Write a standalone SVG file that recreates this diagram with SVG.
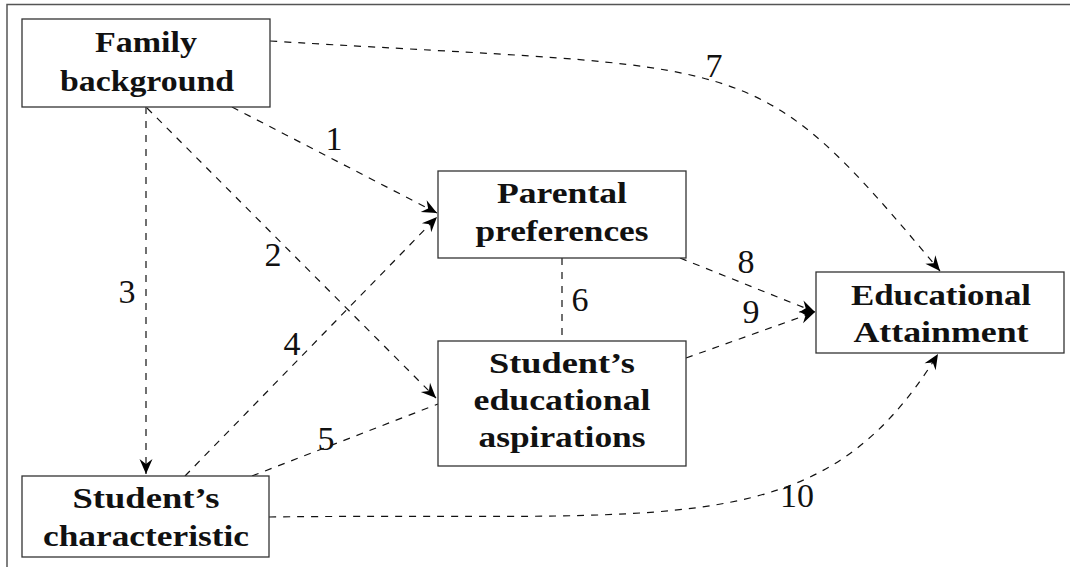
<svg xmlns="http://www.w3.org/2000/svg" width="1070" height="567" viewBox="0 0 1070 567">
<defs>
<style>
.box{fill:#fff;stroke:#333;stroke-width:1.3}
.t{font-family:"Liberation Serif","DejaVu Serif",serif;font-weight:bold;font-size:30px;fill:#111;text-anchor:middle}
.n{font-family:"Liberation Serif","DejaVu Serif",serif;font-size:34px;fill:#111;text-anchor:middle}
.e{fill:none;stroke:#111;stroke-width:1.2;stroke-dasharray:7 7}
.frame{fill:none;stroke:#555;stroke-width:1.5}
</style>
<marker id="arr" markerUnits="userSpaceOnUse" markerWidth="20" markerHeight="16" viewBox="-16 -8 18 16" refX="0" refY="0" orient="auto">
<path d="M0,0 L-15,-6.5 L-10,0 L-15,6.5 Z" fill="#000" stroke="none"/>
</marker>
</defs>
<path class="frame" d="M7,567 L7,4.5 L1070,4.5"/>
<g id="connectors">
<path class="e" d="M232,107 L437,213" marker-end="url(#arr)"/>
<path class="e" d="M147,108 L436,398" marker-end="url(#arr)"/>
<path class="e" d="M146,107 L146,474" marker-end="url(#arr)"/>
<path class="e" d="M185,476 L437,217" marker-end="url(#arr)"/>
<path class="e" d="M252,476 L438,404"/>
<path class="e" d="M562,258 L562,341"/>
<path class="e" d="M270,41 C760,71 750,44 940,271" marker-end="url(#arr)"/>
<path class="e" d="M680,258 L815,312" marker-end="url(#arr)"/>
<path class="e" d="M686,358 L815,312" marker-end="url(#arr)"/>
<path class="e" d="M269,517 C680,512 820,545 938,354" marker-end="url(#arr)"/>
<text class="n" x="334" y="150">1</text>
<text class="n" x="273" y="266">2</text>
<text class="n" x="127" y="303">3</text>
<text class="n" x="292" y="355">4</text>
<text class="n" x="326" y="450">5</text>
<text class="n" x="580" y="311">6</text>
<text class="n" x="714" y="77">7</text>
<text class="n" x="746" y="273">8</text>
<text class="n" x="751" y="323">9</text>
<text class="n" x="797" y="507">10</text>
</g>
<g id="family">
<rect class="box" x="22" y="19" width="248" height="88"/>
<text class="t" x="146" y="52" textLength="102" lengthAdjust="spacingAndGlyphs">Family</text>
<text class="t" x="147" y="91" textLength="174" lengthAdjust="spacingAndGlyphs">background</text>
</g>
<g id="parental">
<rect class="box" x="438" y="171" width="248" height="87"/>
<text class="t" x="562" y="203" textLength="130" lengthAdjust="spacingAndGlyphs">Parental</text>
<text class="t" x="562" y="241" textLength="173" lengthAdjust="spacingAndGlyphs">preferences</text>
</g>
<g id="aspirations">
<rect class="box" x="438" y="341" width="248" height="125"/>
<text class="t" x="562" y="373" textLength="146" lengthAdjust="spacingAndGlyphs">Student’s</text>
<text class="t" x="562" y="410" textLength="177" lengthAdjust="spacingAndGlyphs">educational</text>
<text class="t" x="562" y="447" textLength="167" lengthAdjust="spacingAndGlyphs">aspirations</text>
</g>
<g id="attainment">
<rect class="box" x="816" y="272" width="248" height="81"/>
<text class="t" x="941" y="305" textLength="180" lengthAdjust="spacingAndGlyphs">Educational</text>
<text class="t" x="941" y="342" textLength="175" lengthAdjust="spacingAndGlyphs">Attainment</text>
</g>
<g id="characteristic">
<rect class="box" x="22" y="476" width="247" height="81"/>
<text class="t" x="146" y="508" textLength="147" lengthAdjust="spacingAndGlyphs">Student’s</text>
<text class="t" x="146" y="546" textLength="206" lengthAdjust="spacingAndGlyphs">characteristic</text>
</g>
</svg>
